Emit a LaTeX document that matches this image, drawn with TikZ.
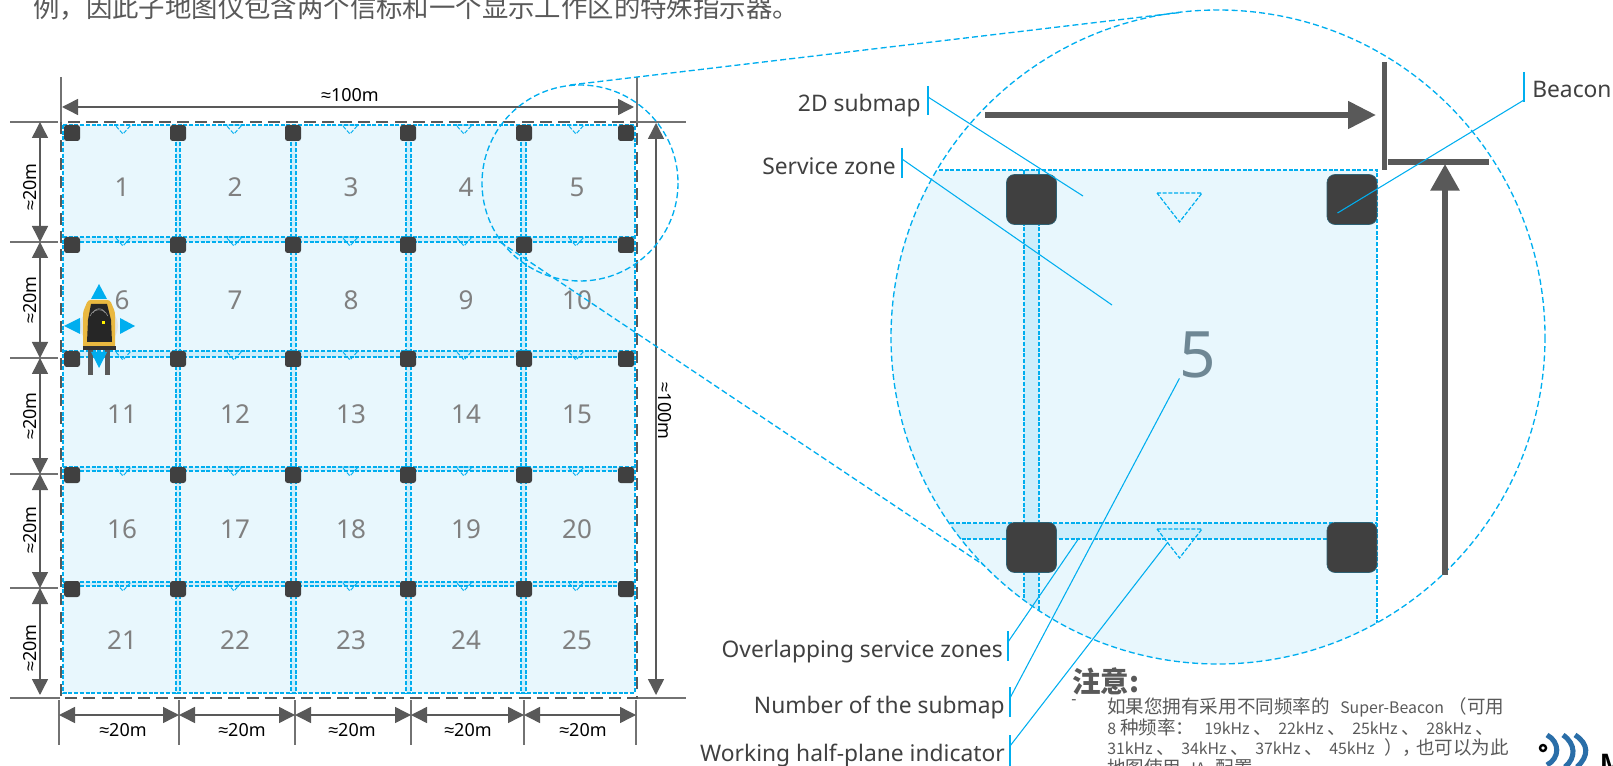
\documentclass[tikz,border=0pt]{standalone}
\usepackage{fontspec}
\setmainfont{Noto Sans}
\newfontfamily\cjk{Noto Sans CJK SC}
\newfontfamily\symf{Liberation Sans}
\newcommand\apx{{\symf ≈}}
\newcommand\lat[1]{{\fontsize{11.9pt}{11.9pt}\selectfont #1}}
\newcommand\bx[2]{\makebox[#1pt][l]{#2}}
\usetikzlibrary{arrows.meta,calc}
\definecolor{bluel}{HTML}{00AEEF}
\definecolor{zone}{HTML}{E8F7FD}
\definecolor{strip}{HTML}{CDEEFB}
\definecolor{dimc}{HTML}{595959}
\definecolor{beac}{HTML}{404040}
\definecolor{numc}{HTML}{808080}
\definecolor{txt}{HTML}{404040}
\definecolor{robot}{HTML}{E9B840}
\definecolor{logob}{HTML}{2A6EA8}
\definecolor{bigfive}{HTML}{6E8794}
\tikzset{
  dashb/.style={draw=bluel,line width=0.9pt,dash pattern=on 3pt off 1.3pt},
  dashc/.style={draw=bluel,line width=1pt,dash pattern=on 4.5pt off 2.4pt},
  greyd/.style={draw=dimc,line width=2.1pt,dash pattern=on 9pt off 4.6pt},
  dimline/.style={draw=dimc!85,line width=1.1pt},
  dimarrow/.style={draw=dimc,line width=1.1pt,{Triangle[length=12pt,width=12pt]}-{Triangle[length=12pt,width=12pt]}},
  dimtxt/.style={font=\fontsize{13.5pt}{13.5pt}\selectfont,text=black,inner sep=0pt},
  beaconS/.style={fill=beac,rounded corners=2pt,minimum size=12pt,inner sep=0pt},
  beaconB/.style={fill=beac,draw=beac!70!bluel,line width=0.5pt,rounded corners=6pt,minimum size=37.5pt,inner sep=0pt},
  numS/.style={font=\fontsize{19.5pt}{19.5pt}\selectfont,text=numc,inner sep=0pt},
  leader/.style={draw=bluel,line width=0.8pt},
  lab/.style={font=\fontsize{17.1pt}{17.1pt}\selectfont,text=txt,inner sep=0pt},
  heavy/.style={draw=dimc,line width=4.4pt},
  robo/.style={fill=bluel,draw=none},
  notel/.style={anchor=west,inner sep=0pt,text=dimc,font=\fontsize{13.9pt}{13.9pt}\selectfont\cjk},
}
\begin{document}
\begin{tikzpicture}[x=0.75pt,y=-0.75pt]
\useasboundingbox (0,0) rectangle (1613,766);
% top sentence
\node[anchor=base west,inner sep=0pt,text=dimc] (intro) at (33,18) {\fontsize{19.8pt}{19.8pt}\selectfont\cjk 例，因此子地图仪包含两个信标和一个显示工作区的特殊指示器。};
% ---- left map
\fill[zone] (63,125) rectangle (635,693);
\foreach \a/\b in {176/180,291/296,406/411,521/526}{
  \fill[strip] (\a,125) rectangle (\b,693);
  \draw[dashb] (\a,125) -- (\a,693);
  \draw[dashb] (\b,125) -- (\b,693);
}
\foreach \a/\b in {237/242,351/357,467/471,582/586}{
  \fill[strip] (63,\a) rectangle (635,\b);
  \draw[dashb] (63,\a) -- (635,\a);
  \draw[dashb] (63,\b) -- (635,\b);
}
\draw[dashb] (63,125) rectangle (635,693);
\foreach \y in {125,237,351,467,582}{
  \foreach \x in {123,234,350,464,576}{
    \draw[dashb,line width=0.7pt] (\x-8,\y) -- (\x+8,\y) -- (\x,\y+9) -- cycle;
  }
}
\draw[greyd] (61,122) rectangle (637,698);
\foreach \y [count=\r] in {133,245,359,475,589}{
  \foreach \x [count=\c] in {72,178,293,408,524,626}{
    \node[beaconS] (b\r-\c) at (\x,\y) {};
  }
}
\foreach \x/\y/\n in {122/187/1,235/187/2,351/187/3,466/187/4,577/187/5,
  122/300/6,235/300/7,351/300/8,466/300/9,577/300/10,
  122/414/11,235/414/12,351/414/13,466/414/14,577/414/15,
  122/529/16,235/529/17,351/529/18,466/529/19,577/529/20,
  122/640/21,235/640/22,351/640/23,466/640/24,577/640/25}{
  \node[numS] (n\n) at (\x,\y) {\n};
}
% ---- dimensions
\draw[dimline] (61,77) -- (61,122);
\draw[dimline] (637,77) -- (637,122) -- (686,122);
\draw[dimarrow] (62,107) -- (634,107);
\node[dimtxt] (top100) at (350,95) {\apx100m};
\draw[dimarrow] (656,123) -- (656,695);
\node[dimtxt,rotate=-90] (right100) at (665,411) {\apx100m};
\draw[dimline] (10,698) -- (60,698);
\draw[dimline] (638,698) -- (686,698);
\foreach \y in {122,242,358,474,588}{ \draw[dimline] (10,\y) -- (58,\y); }
\foreach \a/\b/\m in {122/242/187,242/358/300,358/474/416,474/588/530,588/695/648}{
  \draw[dimarrow] (40,\a) -- (40,\b);
  \node[dimtxt,rotate=90] at (30,\m) {\apx20m};
}
\foreach \x in {59,179,295,411,524,636}{ \draw[dimline] (\x,700) -- (\x,745); }
\foreach \a/\b/\m in {59/179/123,179/295/242,295/411/352,411/524/468,524/636/583}{
  \draw[dimarrow] (\a,715) -- (\b,715);
  \node[dimtxt] at (\m,730) {\apx20m};
}
% ---- robot
\fill[dimc] (88,350) rectangle (93,375);
\fill[dimc] (105,350) rectangle (110,375);
\fill[numc!25,opacity=.7] (99,326) circle[radius=19];
\fill[robot,rounded corners=2pt] (83,348) -- (83,312) -- (88,300) -- (110,300) -- (115,312) -- (115,348) -- cycle;
\fill[black!85] (91,304) -- (107,304) -- (111,320) -- (112,342) -- (87,342) -- (88,320) -- cycle;
\fill[black!80] (83,346) rectangle (116,350);
\draw[white!60!black,line width=.4pt] (93,313) arc[start angle=200,end angle=340,radius=6.5];
\draw[white!60!black,line width=.4pt] (90,316) arc[start angle=200,end angle=340,radius=9.5];
\fill[yellow] (102,321) rectangle (105,324);
\fill[robo] (99,284) -- (107,299) -- (91,299) -- cycle;
\fill[robo] (64,326) -- (80,318) -- (80,334) -- cycle;
\fill[robo] (135,326) -- (120,318) -- (120,334) -- cycle;
\fill[robo] (99,368) -- (107,352) -- (91,352) -- cycle;
% ---- zoom circles and tangents
\draw[dashc] (580,183) circle[radius=98];
\draw[dashc] (570,85) -- (1180,12.5);
\draw[dashc] (500,242) -- (985,566);
\begin{scope}
  \clip (1218,337) circle[radius=327];
  \fill[zone] (870,170) rectangle (1377,700);
  \fill[strip] (1024,170) rectangle (1039,700);
  \fill[strip] (870,523) rectangle (1377,539);
  \draw[dashb] (1024,170) -- (1024,700);
  \draw[dashb] (1039,170) -- (1039,700);
  \draw[dashb] (870,523) -- (1377,523);
  \draw[dashb] (870,539) -- (1377,539);
  \draw[dashb] (870,170) -- (1377,170) -- (1377,700);
\end{scope}
\draw[dashc] (1218,337) circle[radius=327];
\node[beaconB] (bTL) at (1031.5,199.5) {};
\node[beaconB] (bTR) at (1352,199.5) {};
\node[beaconB] (bBL) at (1031.5,547.5) {};
\node[beaconB] (bBR) at (1352,547.5) {};
\draw[dashb] (1157,193) -- (1202,193) -- (1179.5,222) -- cycle;
\draw[dashb] (1157,529) -- (1202,529) -- (1179.5,558) -- cycle;
\node[inner sep=0pt,font=\fontsize{48pt}{48pt}\selectfont,text=bigfive] (big5) at (1198,355) {5};
% ---- heavy dimension marks
\draw[heavy] (1384.5,62) -- (1384.5,170);
\draw[heavy] (1388,162) -- (1489,162);
\draw[heavy,-{Triangle[length=21pt,width=20pt]}] (985,115) -- (1376,115);
\draw[heavy,-{Triangle[length=20pt,width=21pt]}] (1445,575) -- (1445,164);
% ---- labels and leaders
\node[lab,anchor=east] (l2d) at (921,106) {2D submap};
\node[lab,anchor=east] (lsz) at (896,166) {Service zone};
\node[lab,anchor=west] (lbe) at (1532,89) {Beacon};
\node[lab,anchor=east] (lov) at (1003,652) {Overlapping service zones};
\node[lab,anchor=east] (lnu) at (1005,708) {Number of the submap};
\node[lab,anchor=east] (lwo) at (1005,756) {Working half-plane indicator};
\coordinate (t2d) at (928,97);
\coordinate (tsz) at (902,159);
\coordinate (tbe) at (1524,100);
\coordinate (tov) at (1008,642);
\coordinate (tnu) at (1010,698);
\coordinate (two) at (1010,746);
\draw[leader] (928,86) -- (928,115);
\draw[leader] (902,148) -- (902,178);
\draw[leader] (1524,72) -- (1524,102);
\draw[leader] (1008,631) -- (1008,661);
\draw[leader] (1010,687) -- (1010,717);
\draw[leader] (1010,735) -- (1010,766);
\draw[leader] (t2d) -- (1083,196);
\draw[leader] (tsz) -- (1112,305);
\draw[leader] (tbe) -- (1337.5,213);
\draw[leader] (tov) -- (1079,538);
\draw[leader] (tnu) -- (big5.south west);
\draw[leader] (two) -- (1168,542);
% ---- note
\node[anchor=west,inner sep=0pt,text=dimc,font=\fontsize{21.4pt}{21.4pt}\selectfont\cjk\bfseries] (note) at (1072,681) {注意:};
\node[anchor=west,inner sep=0pt,text=dimc,font=\fontsize{12pt}{12pt}\selectfont] (dash) at (1071,702) {-};
\node[notel] (n1) at (1107,707) {\bx{174.75}{如果您拥有采用不同频率的}\bx{81.4}{\lat{Super-Beacon}}（可用};
\node[notel] (n2) at (1107,727) {\bx{72.75}{\lat{8} 种频率：}\bx{55.5}{\lat{19kHz} 、}\bx{55.5}{\lat{22kHz} 、}\bx{55.5}{\lat{25kHz} 、}\lat{28kHz} 、};
\node[notel] (n3) at (1107,748) {\bx{55.5}{\lat{31kHz} 、}\bx{55.5}{\lat{34kHz} 、}\bx{55.5}{\lat{37kHz} 、}\bx{41.25}{\lat{45kHz}}\bx{24}{），}也可以为此};
\node[notel] (n4) at (1107,767) {\bx{63}{地图使用}\bx{18.5}{\lat{IA}}配置};
% ---- logo
\begin{scope}[draw=logob,line width=3.8pt]
  \draw (1547,735) .. controls (1560,742) and (1560,758) .. (1547,765);
  \draw (1563,735) .. controls (1576,744) and (1576,758) .. (1565,767);
  \draw (1575,735) .. controls (1589,744) and (1589,756) .. (1577,767);
\end{scope}
\draw[black,line width=1.8pt,fill=white] (1543,748) circle[radius=3];
\node[anchor=base west,inner sep=0pt,font=\symf\fontsize{21pt}{21pt}\selectfont\bfseries,text=black] (logoM) at (1600,773) {M};
\end{tikzpicture}
\end{document}
